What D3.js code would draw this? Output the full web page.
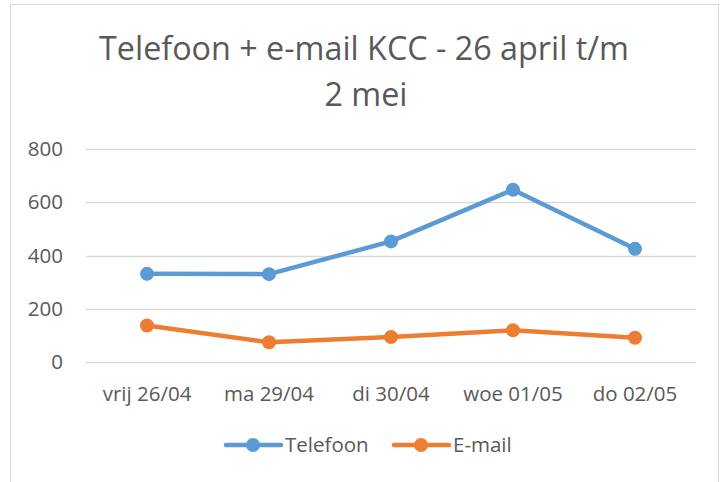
<!DOCTYPE html>
<html>
<head>
<meta charset="utf-8">
<script src="https://cdn.jsdelivr.net/npm/d3@7"></script>
<style>
  body { margin: 0; background: #fff; }
  text { font-family: "Open Sans", "Noto Sans", sans-serif; fill: #595959; }
</style>
</head>
<body>
<script>
//chart data
var days = ["vrij 26/04", "ma 29/04", "di 30/04", "woe 01/05", "do 02/05"];
var telefoon = [331, 330, 453, 647, 425];
var email = [137, 74, 94, 119, 91];
var yTicks = [0, 200, 400, 600, 800];
var seriesNames = ["Telefoon", "E-mail"];
var colors = ["#5B9BD5", "#ED7D31"];

window.onload = drawChart();

function drawChart(){

    var width = 728,
        height = 482;

    var svg = d3.select("body")
        .append("svg")
        .attr("width", width)
        .attr("height", height);

    //chart frame
    svg.append("rect")
        .attr("x", 10.5)
        .attr("y", 4.5)
        .attr("width", 708)
        .attr("height", 490)
        .attr("fill", "#fff")
        .attr("stroke", "#D9D9D9");

    //title, two lines
    svg.append("text")
        .attr("x", 364)
        .attr("y", 60)
        .attr("text-anchor", "middle")
        .style("font-size", "32.3px")
        .text("Telefoon + e-mail KCC - 26 april t/m");
    svg.append("text")
        .attr("x", 366)
        .attr("y", 106)
        .attr("text-anchor", "middle")
        .style("font-size", "32.3px")
        .text("2 mei");

    var x = d3.scaleBand()
        .domain(days)
        .range([86, 696]);

    var y = d3.scaleLinear()
        .domain([0, 800])
        .range([362, 149]);

    //gridlines
    svg.append("g")
        .selectAll("line")
        .data(yTicks)
        .enter()
        .append("line")
        .attr("x1", 86)
        .attr("x2", 696)
        .attr("y1", function(d){ return Math.round(y(d)) + 0.5; })
        .attr("y2", function(d){ return Math.round(y(d)) + 0.5; })
        .attr("stroke", "#D9D9D9")
        .attr("stroke-width", 1.3);

    //y axis labels
    var yAxis = d3.axisLeft(y).tickValues(yTicks).tickSize(0).tickPadding(23);
    var gy = svg.append("g")
        .attr("transform", "translate(86,0)")
        .call(yAxis);
    gy.select(".domain").remove();
    gy.selectAll("text").style("font-size", "20.5px").style("font-family", null);

    //x axis labels
    var xAxis = d3.axisBottom(x).tickSize(0).tickPadding(24);
    var gx = svg.append("g")
        .attr("transform", "translate(0,362)")
        .call(xAxis);
    gx.select(".domain").remove();
    gx.selectAll("text").style("font-size", "20.5px").style("font-family", null);

    var line = d3.line()
        .x(function(d, i){ return x(days[i]) + x.bandwidth() / 2; })
        .y(function(d){ return y(d); });

    var series = [telefoon, email];
    series.forEach(function(vals, s){
        svg.append("path")
            .datum(vals)
            .attr("d", line)
            .attr("fill", "none")
            .attr("stroke", colors[s])
            .attr("stroke-width", 4.5)
            .attr("stroke-linecap", "round")
            .attr("stroke-linejoin", "round");
        svg.selectAll(".dot" + s)
            .data(vals)
            .enter()
            .append("circle")
            .attr("class", "dot" + s)
            .attr("cx", function(d, i){ return x(days[i]) + x.bandwidth() / 2; })
            .attr("cy", function(d){ return y(d); })
            .attr("r", 7)
            .attr("fill", colors[s]);
    });

    //legend
    var legX = [226, 394];
    var legend = svg.selectAll(".legend")
        .data(seriesNames)
        .enter()
        .append("g")
        .attr("class", "legend")
        .attr("transform", function(d, i){ return "translate(" + legX[i] + ",445)"; });
    legend.append("line")
        .attr("x1", 0).attr("x2", 55)
        .attr("stroke", function(d, i){ return colors[i]; })
        .attr("stroke-width", 4.5)
        .attr("stroke-linecap", "round");
    legend.append("circle")
        .attr("cx", 27)
        .attr("r", 7)
        .attr("fill", function(d, i){ return colors[i]; });
    legend.append("text")
        .attr("x", 59)
        .attr("dy", "0.35em")
        .style("font-size", "20.5px")
        .text(function(d){ return d; });
};
</script>
</body>
</html>
